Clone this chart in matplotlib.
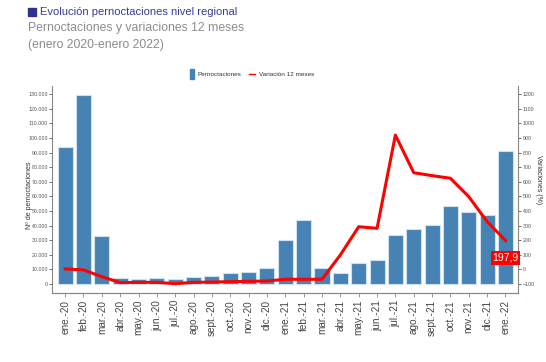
import matplotlib
matplotlib.use("Agg")
import matplotlib.pyplot as plt
from matplotlib.patches import Rectangle
from matplotlib.ticker import FuncFormatter, MultipleLocator

months = ["ene.-20", "feb.-20", "mar.-20", "abr.-20", "may.-20", "jun.-20",
          "jul.-20", "ago.-20", "sept.-20", "oct.-20", "nov.-20", "dic.-20",
          "ene.-21", "feb.-21", "mar.-21", "abr.-21", "may.-21", "jun.-21",
          "jul.-21", "ago.-21", "sept.-21", "oct.-21", "nov.-21", "dic.-21",
          "ene.-22"]
pernoctaciones = [94000, 129400, 32900, 3900, 3400, 4100, 3200, 5000, 5500,
                  7300, 8200, 11000, 30400, 43800, 11200, 7800, 14400, 16400,
                  33600, 37700, 40600, 53400, 49500, 47000, 91100]
variacion = [3, -4, -50, -91, -89, -89, -98, -89, -87, -84, -82, -80, -68,
             -68, -68, 99, 292, 281, 920, 662, 642, 624, 498, 327, 197.9]
last_label = "197,9"

plt.rcParams["font.family"] = ["Liberation Sans Narrow", "Liberation Sans", "DejaVu Sans"]

fig = plt.figure(figsize=(5.46, 3.62), dpi=100)
ax = fig.add_axes([0.0958, 0.1906, 0.8535, 0.5718])

x = range(len(months))
ax.bar(x, pernoctaciones, width=0.82, color="#4682b4", edgecolor="#cfe0f0",
       linewidth=0.8, zorder=2)
ax.set_xlim(-0.7, len(months) - 0.3)
ax.set_ylim(-6200, 135600)
ax.yaxis.set_major_locator(MultipleLocator(10000))
ax.yaxis.set_major_formatter(FuncFormatter(lambda v, p: f"{int(v):,}".replace(",", ".")))
ax.set_xticks(list(x))
ax.set_xticklabels(months, rotation=90, fontsize=7.2, color="#444444")
ax.set_ylabel("Nº de pernoctaciones", fontsize=5, color="#333333")
ax.yaxis.set_label_coords(-0.042, 0.47)

ax2 = ax.twinx()
ax2.plot(x, variacion, color="#ff0000", linewidth=2.2, zorder=3)
ax2.set_ylim(-162, 1256)
ax2.yaxis.set_major_locator(MultipleLocator(100))
ax2.set_ylabel("Variaciones (%)", fontsize=5, color="#333333", rotation=-90)
ax2.yaxis.set_label_coords(1.05, 0.55)
ax2.text(x[-1], 78, last_label, color="white", fontsize=7.5, ha="center",
         va="center", bbox=dict(boxstyle="square,pad=0.15", fc="#ff0000", ec="none"),
         zorder=5)

for a in (ax, ax2):
    a.spines["top"].set_visible(False)
    for s in ("left", "right", "bottom"):
        a.spines[s].set_color("#888888")
    a.tick_params(axis="y", labelsize=3.8, colors="#555555", length=2, width=0.6, pad=1)
    a.tick_params(axis="x", length=3, width=0.6, colors="#888888",
                  labelcolor="#444444", pad=2)
ax.spines["right"].set_visible(False)
ax2.spines["left"].set_visible(False)

# titles
fig.patches.append(Rectangle((28 / 546, 1 - 16 / 362), 8 / 546, 8 / 362,
                             transform=fig.transFigure, color="#2e3192"))
fig.text(40 / 546, 1 - 12 / 362, "Evolución pernoctaciones nivel regional",
         fontsize=8, color="#3a3a9c", va="center")
fig.text(28 / 546, 1 - 28.5 / 362, "Pernoctaciones y variaciones 12 meses",
         fontsize=8.8, color="#8c8c8c", va="center")
fig.text(28 / 546, 1 - 45 / 362, "(enero 2020-enero 2022)",
         fontsize=8.8, color="#8c8c8c", va="center")

# legend
fig.patches.append(Rectangle((190 / 546, 1 - 79 / 362), 4 / 546, 10 / 362,
                             transform=fig.transFigure, color="#4682b4"))
fig.text(198 / 546, 1 - 74 / 362, "Pernoctaciones", fontsize=4.6,
         color="#333333", va="center")
fig.lines.append(plt.Line2D([249 / 546, 255 / 546], [1 - 74 / 362, 1 - 74 / 362],
                            transform=fig.transFigure, color="#ff0000", lw=1))
fig.text(259 / 546, 1 - 74 / 362, "Variación 12 meses", fontsize=4.6,
         color="#333333", va="center")

fig.savefig("out.png", dpi=100)
